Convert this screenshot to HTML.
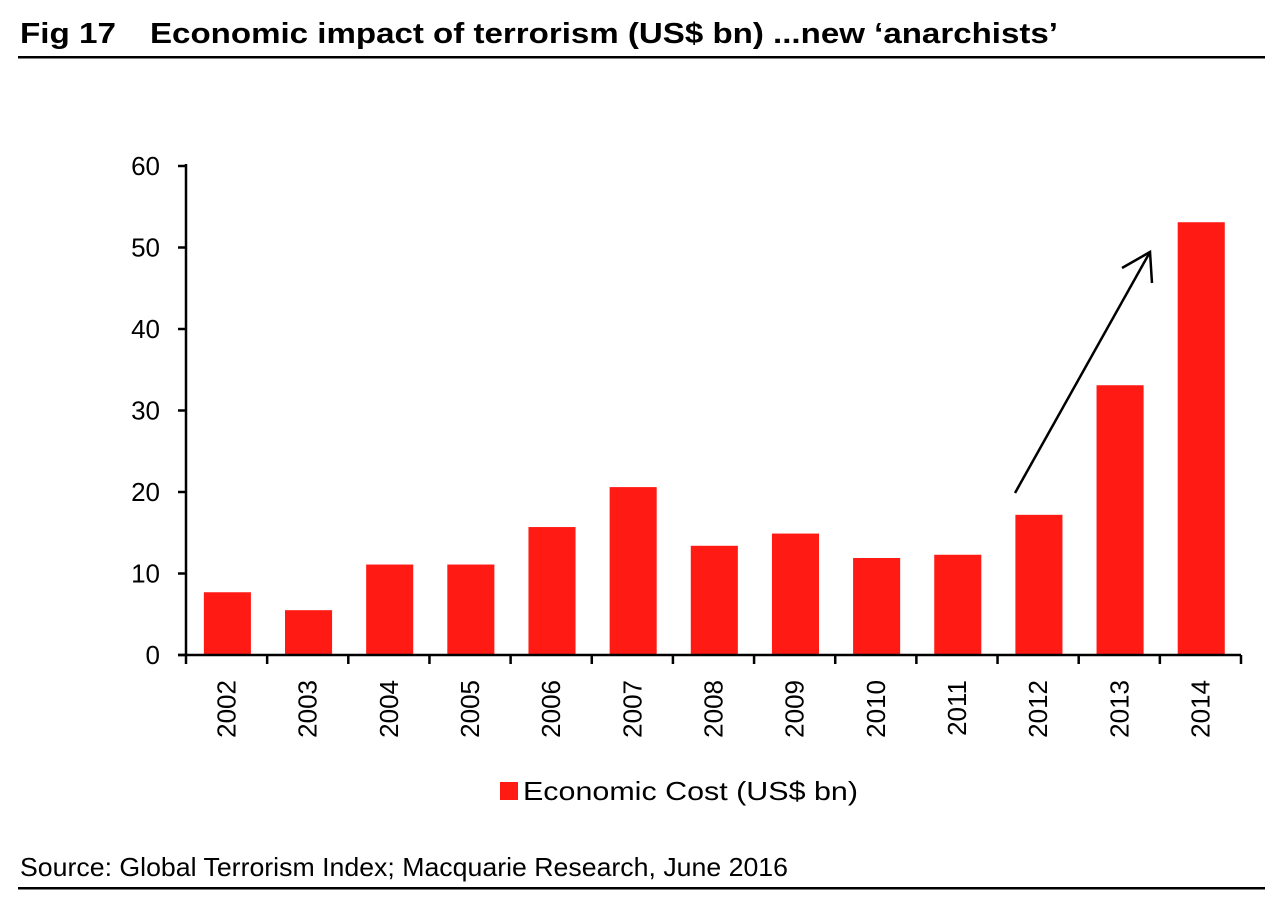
<!DOCTYPE html>
<html><head><meta charset="utf-8"><style>
body{margin:0;background:#fff;font-family:"Liberation Sans",Arial,sans-serif;}
svg text{font-family:"Liberation Sans",Arial,sans-serif;}
</style></head><body>
<svg width="1265" height="900" xmlns="http://www.w3.org/2000/svg">
<text x="20" y="43" font-size="29" font-weight="bold" textLength="96" lengthAdjust="spacingAndGlyphs">Fig 17</text>
<text x="150" y="43" font-size="29" font-weight="bold" textLength="908" lengthAdjust="spacingAndGlyphs">Economic impact of terrorism (US$ bn) ...new ‘anarchists’</text>
<rect x="18" y="56" width="1247" height="2.5" fill="#000"/>
<g id="plot"></g>
<line x1="1015" y1="493" x2="1150" y2="252" stroke="#000" stroke-width="2.5"/>
<polyline points="1122,268 1150,252 1152,283" fill="none" stroke="#000" stroke-width="2.5"/>
<rect x="500" y="782" width="18" height="18" fill="#ff1a14"/>
<text x="523" y="800" font-size="26" textLength="335" lengthAdjust="spacingAndGlyphs">Economic Cost (US$ bn)</text>
<text x="20" y="876" font-size="26" textLength="768" lengthAdjust="spacingAndGlyphs">Source: Global Terrorism Index; Macquarie Research, June 2016</text>
<rect x="18" y="887" width="1247" height="2.5" fill="#000"/>
</svg>
<script>
const categories=["2002","2003","2004","2005","2006","2007","2008","2009","2010","2011","2012","2013","2014"];
const values=[7.7,5.5,11.1,11.1,15.7,20.6,13.4,14.9,11.9,12.3,17.2,33.1,53.1];
const yTicks=[0,10,20,30,40,50,60];
const NS="http://www.w3.org/2000/svg";
const g=document.getElementById('plot');
const X0=186,X1=1241,Y0=655,Y1=166,YMAX=60;
const bw=(X1-X0)/categories.length;
function y(v){return Y0-(v/YMAX)*(Y0-Y1);}
function x(i){return X0+bw*i;}
function mk(t,a){const e=document.createElementNS(NS,t);for(const k in a)e.setAttribute(k,a[k]);g.appendChild(e);return e;}
values.forEach((v,i)=>{
 const r=mk('rect',{x:x(i)+bw*0.22,y:y(v),width:bw*0.58,height:Y0-y(v),fill:'#ff1a14'});
 
 
});
const ya=mk('line',{x1:X0,y1:Y1-2,x2:X0,y2:Y0,stroke:'#000','stroke-width':2.5});


const xa=mk('line',{x1:X0-8,y1:Y0,x2:X1,y2:Y0,stroke:'#000','stroke-width':2.5});


yTicks.forEach(t=>{
 const l=mk('line',{x1:X0-8,y1:y(t),x2:X0,y2:y(t),stroke:'#000','stroke-width':2.5});
 
 
 const tx=mk('text',{x:X0-26,y:y(t)+9,'font-size':26,'text-anchor':'end'});
 tx.textContent=t;
 
 
});
for(let i=0;i<=categories.length;i++){
 const l=mk('line',{x1:x(i),y1:Y0,x2:x(i),y2:Y0+9,stroke:'#000','stroke-width':2.5});
 
 
}
categories.forEach((c,i)=>{
 const cx=x(i)+bw/2+9;
 const tx=mk('text',{x:cx,y:680,'font-size':26,'text-anchor':'end',transform:`rotate(-90 ${cx} 680)`});
 tx.textContent=c;
 
 
});
</script>
</body></html>
